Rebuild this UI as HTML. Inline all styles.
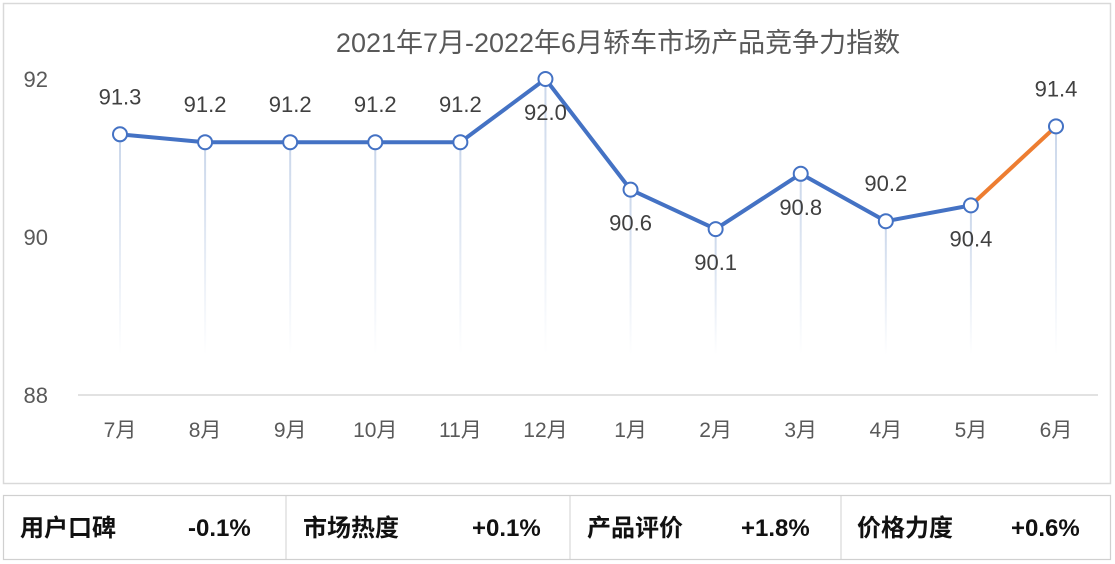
<!DOCTYPE html>
<html><head><meta charset="utf-8"><style>
body{margin:0;width:1115px;height:564px;background:#fff;overflow:hidden;font-family:"Liberation Sans","Noto Sans CJK SC",sans-serif}
svg{position:absolute;left:0;top:0}
</style></head><body>
<svg width="1115" height="564">
<defs><linearGradient id="fade" x1="0" y1="0" x2="0" y2="1"><stop offset="0" stop-color="#c9d6ea"/><stop offset="1" stop-color="#c9d6ea" stop-opacity="0"/></linearGradient></defs>
<rect x="3.5" y="3.5" width="1107" height="480" fill="#fff" stroke="#d9d9d9" stroke-width="1.5"/>
<text x="618" y="52" text-anchor="middle" font-size="27" fill="#595959">2021年7月-2022年6月轿车市场产品竞争力指数</text>
<g id="plot"></g>
<g>
<rect x="3.5" y="495.5" width="1107" height="64" fill="#fff" stroke="#d0d0d0" stroke-width="1.2"/>
<line x1="286" y1="495" x2="286" y2="560" stroke="#d0d0d0"/>
<line x1="570" y1="495" x2="570" y2="560" stroke="#d0d0d0"/>
<line x1="841" y1="495" x2="841" y2="560" stroke="#d0d0d0"/>
<g font-size="24" fill="#111" font-weight="bold">
<text x="20" y="536">用户口碑</text>
<text x="188" y="536">-0.1%</text>
<text x="303" y="536">市场热度</text>
<text x="472" y="536">+0.1%</text>
<text x="587" y="536">产品评价</text>
<text x="741" y="536">+1.8%</text>
<text x="857" y="536">价格力度</text>
<text x="1011" y="536">+0.6%</text>
</g></g>
</svg>
<script>
const categories=["7月","8月","9月","10月","11月","12月","1月","2月","3月","4月","5月","6月"];
const values=[91.3,91.2,91.2,91.2,91.2,92.0,90.6,90.1,90.8,90.2,90.4,91.4];
const labelAbove=[1,1,1,1,1,0,0,0,0,1,0,1];
const yTicks=[88,90,92];
const NS="http://www.w3.org/2000/svg";
const g=document.getElementById('plot');
const x=i=>120+i*(1056-120)/11;
const y=v=>395-(v-88)*79;
function mk(t,a,p){const e=document.createElementNS(NS,t);for(const k in a)e.setAttribute(k,a[k]);(p||g).appendChild(e);return e;}
const ax=mk('line',{x1:78,x2:1098,y1:395,y2:395,stroke:'#d9d9d9','stroke-width':1.5});


yTicks.forEach(t=>{const e=mk('text',{x:48,y:y(t)+8,'text-anchor':'end','font-size':22,fill:'#595959'});e.textContent=t;

});
categories.forEach((c,i)=>{
const d=mk('rect',{x:x(i)-1,y:y(values[i]),width:2,height:355-y(values[i]),fill:'url(#fade)'});


const e=mk('text',{x:x(i),y:437,'text-anchor':'middle','font-size':21,fill:'#595959'});e.textContent=c;

});
let pts=values.slice(0,11).map((v,i)=>x(i)+','+y(v)).join(' ');
const l=mk('polyline',{points:pts,fill:'none',stroke:'#4472c4','stroke-width':4,'stroke-linejoin':'round'});


const o=mk('line',{x1:x(10),y1:y(values[10]),x2:x(11),y2:y(values[11]),stroke:'#ed7d31','stroke-width':4});


values.forEach((v,i)=>{
const c=mk('circle',{cx:x(i),cy:y(v),r:7,fill:'#fff',stroke:'#4472c4','stroke-width':2});


const t=mk('text',{x:x(i),y:labelAbove[i]?y(v)-30:y(v)+41,'text-anchor':'middle','font-size':22,fill:'#404040'});
t.textContent=v.toFixed(1);

});
</script>
</body></html>
